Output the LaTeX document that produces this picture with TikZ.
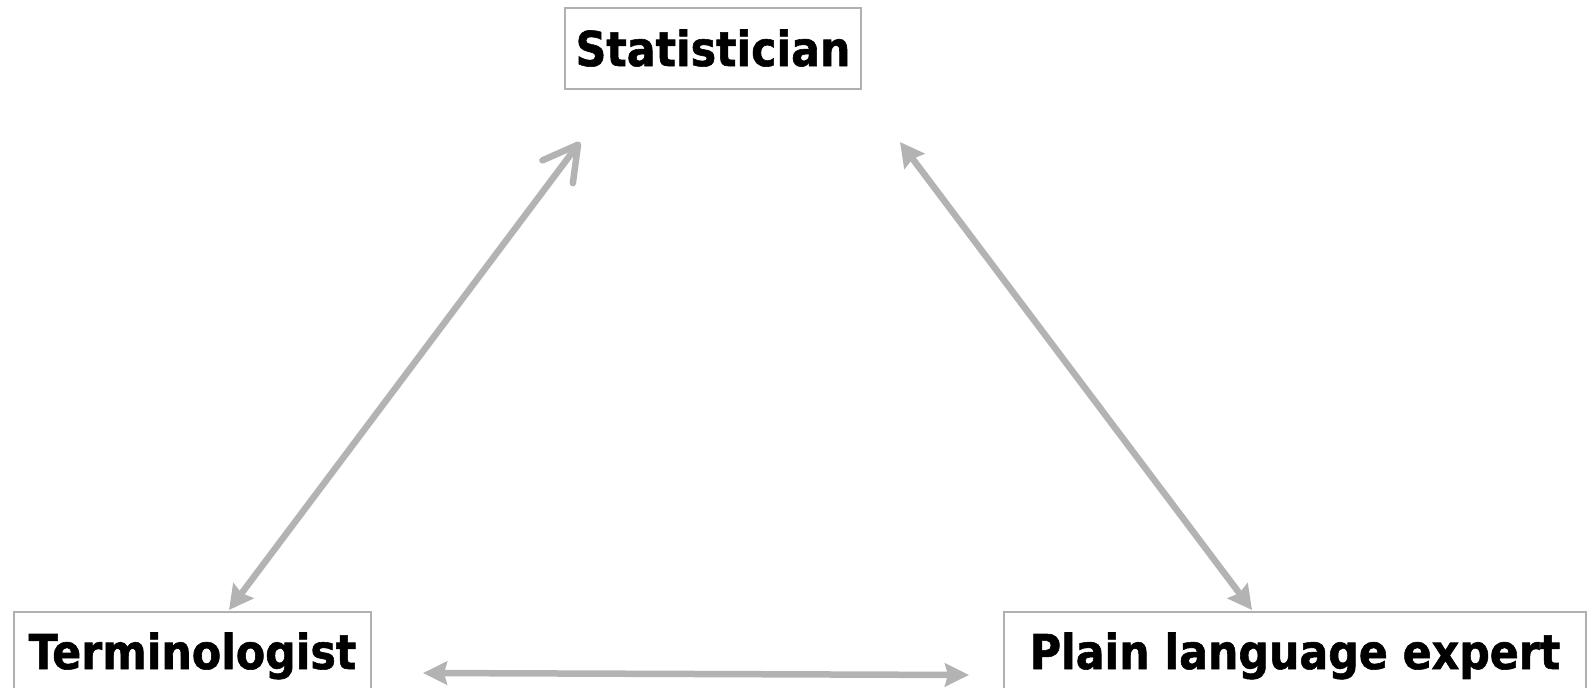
\documentclass[tikz,border=0pt]{standalone}
\usepackage{fontspec}
\usetikzlibrary{arrows.meta}
\newfontfamily\rolefont{DejaVu Sans Bold}[FakeStretch=0.89, FakeBold=1.2]
\definecolor{linkgray}{RGB}{179,179,179}
\definecolor{boxgray}{RGB}{176,176,176}

\begin{document}
\begin{tikzpicture}[x=1pt, y=-1pt,
    role/.style={draw=boxgray, line width=2pt, inner sep=0pt,
      text height=35pt, text depth=20pt,
      font={\rolefont\fontsize{48}{56}\selectfont}},
    link/.style={line width=6.5pt, color=linkgray}]
  \useasboundingbox (0,0) rectangle (1588,688);

  \node[role, anchor=north west, minimum width=296pt, minimum height=81pt,
    text depth=0pt] (stat) at (564,7) {Statistician};
  \node[role, anchor=north west, minimum width=357pt, inner ysep=22pt]
    (term) at (13,611) {Terminologist};
  \node[role, anchor=north west, minimum width=582pt, inner ysep=22pt]
    (plain) at (1003,611) {Plain language expert};

  \coordinate (statL) at (580,142);
  \coordinate (statR) at (900,142);
  \coordinate (termT) at (229,610);
  \coordinate (termR) at (423,673);
  \coordinate (plainT) at (1252,610);
  \coordinate (plainL) at (969,675);

  \draw[link, {Straight Barb[round, length=34pt, width=38pt]}-{Stealth[length=24pt, width=25pt, inset=3pt]}]
    (statL) -- (termT);
  \draw[link, {Stealth[length=24pt, width=25pt, inset=3pt]}-{Stealth[length=24pt, width=25pt, inset=3pt]}]
    (statR) -- (plainT);
  \draw[link, {Stealth[length=24pt, width=23pt, inset=3pt]}-{Stealth[length=24pt, width=23pt, inset=3pt]}]
    (termR) -- (plainL);
\end{tikzpicture}
\end{document}
